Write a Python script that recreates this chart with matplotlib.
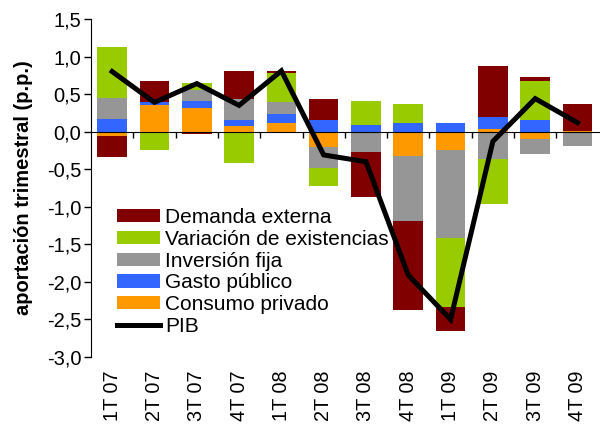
import matplotlib
matplotlib.use("Agg")
import matplotlib.pyplot as plt
import numpy as np

categories = ["1T 07", "2T 07", "3T 07", "4T 07", "1T 08", "2T 08",
              "3T 08", "4T 08", "1T 09", "2T 09", "3T 09", "4T 09"]
consumo = [-0.06, 0.35, 0.32, 0.08, 0.12, -0.20, 0.00, -0.32, -0.25, 0.03, -0.10, 0.01]
gasto = [0.17, 0.04, 0.09, 0.08, 0.11, 0.15, 0.09, 0.12, 0.12, 0.16, 0.16, -0.02]
inversion = [0.28, 0.00, 0.15, 0.27, 0.16, -0.28, -0.27, -0.87, -1.16, -0.36, -0.20, -0.17]
existencias = [0.68, -0.24, 0.09, -0.42, 0.39, -0.24, 0.32, 0.25, -0.93, -0.60, 0.52, 0.00]
externa = [-0.28, 0.28, -0.03, 0.38, 0.03, 0.29, -0.60, -1.18, -0.32, 0.69, 0.05, 0.36]
pib = [0.80, 0.39, 0.64, 0.35, 0.81, -0.31, -0.40, -1.91, -2.50, -0.13, 0.44, 0.12]

series = [
    ("Consumo privado", consumo, "#FF9900"),
    ("Gasto público", gasto, "#3366FF"),
    ("Inversión fija", inversion, "#969696"),
    ("Variación de existencias", existencias, "#99CC00"),
    ("Demanda externa", externa, "#800000"),
]

plt.rcParams['font.family'] = ['Liberation Sans', 'DejaVu Sans']

fig = plt.figure(figsize=(6.0, 4.26), dpi=100)
ax = fig.add_axes([0.1517, 0.162, 0.846, 0.7934])

x = np.arange(len(categories))
pos_base = np.zeros(len(categories))
neg_base = np.zeros(len(categories))
handles = {}
for name, vals, col in series:
    v = np.array(vals, dtype=float)
    pos = np.where(v > 0, v, 0)
    neg = np.where(v < 0, v, 0)
    b = ax.bar(x, pos, 0.7, bottom=pos_base, color=col, linewidth=0, label=name)
    ax.bar(x, neg, 0.7, bottom=neg_base, color=col, linewidth=0)
    pos_base += pos
    neg_base += neg
    handles[name] = b

line, = ax.plot(x, pib, color="black", linewidth=3.6, solid_joinstyle="miter", label="PIB")

ax.set_xlim(-0.5, 11.5)
ax.set_ylim(-3.0, 1.5)
ax.set_yticks(np.arange(-3.0, 1.51, 0.5))
ax.set_yticklabels([f"{t:.1f}".replace(".", ",") for t in np.arange(-3.0, 1.51, 0.5)], fontsize=14.5)
ax.tick_params(axis='y', direction='out', length=5, width=1, pad=2)

ax.spines['top'].set_visible(False)
ax.spines['right'].set_visible(False)
ax.spines['bottom'].set_position(('data', 0))
ax.spines['bottom'].set_zorder(3)
ax.set_xticks(np.arange(0.5, 11.0, 1.0))
ax.set_xticklabels([])
ax.tick_params(axis='x', direction='out', length=4, width=1)

for i, lab in enumerate(categories):
    ax.text(i, -0.04, lab, rotation=90, ha='center', va='top', fontsize=14.3,
            transform=ax.get_xaxis_transform())

ax.set_ylabel("aportación trimestral (p.p.)", fontsize=14.5, fontweight='bold', labelpad=10)

order = ["Demanda externa", "Variación de existencias", "Inversión fija",
         "Gasto público", "Consumo privado"]
hl = [handles[n] for n in order] + [line]
ll = order + ["PIB"]
ax.legend(hl, ll, loc='upper left', bbox_to_anchor=(0.035, 0.465), frameon=False,
          fontsize=15, handlelength=2.05, handleheight=0.6, labelspacing=0.13,
          handletextpad=0.25, borderaxespad=0)

fig.savefig("out.png", dpi=100)
